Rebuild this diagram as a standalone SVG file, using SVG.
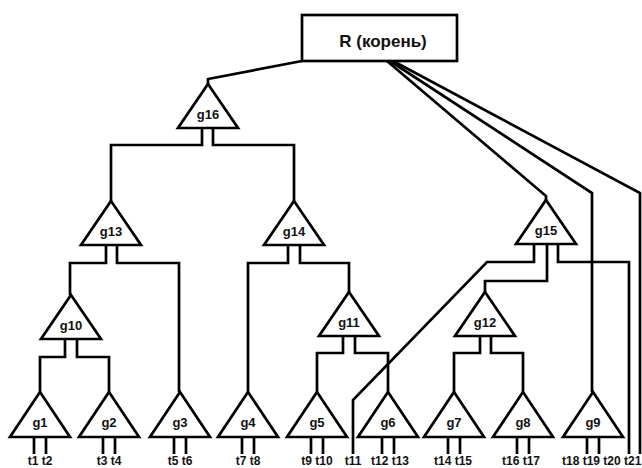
<svg xmlns="http://www.w3.org/2000/svg" width="642" height="468" viewBox="0 0 642 468">
<style>
.tri{fill:#fff;stroke:#000;stroke-width:2.7;stroke-linejoin:miter}
.box{fill:#fff;stroke:#000;stroke-width:2.7}
.w{fill:none;stroke:#000;stroke-width:2.7;stroke-linejoin:miter}
.gl{font-family:"Liberation Sans",Arial,sans-serif;font-weight:bold;font-size:13px;text-anchor:middle;fill:#111}
.tl{font-family:"Liberation Sans",Arial,sans-serif;font-weight:bold;font-size:12px;text-anchor:middle;fill:#111}
.rl{font-family:"Liberation Sans",Arial,sans-serif;font-weight:bold;font-size:17px;text-anchor:middle;fill:#111}
</style>
<rect width="642" height="468" fill="#fff"/>
<g id="connectors" class="w">
<path d="M302,61 L208,79 V84"/>
<path d="M387,61 L546,196 V200"/>
<path d="M390,61 L592,193 V392"/>
<path d="M393,61 L640,193 V454"/>
<path d="M202,128 V145 H111 V201"/>
<path d="M213,128 V145 H294 V201"/>
<path d="M106,245 V263 H70 V295"/>
<path d="M117,245 V263 H179 V392"/>
<path d="M288,245 V263 H248 V392"/>
<path d="M300,245 V263 H349 V292"/>
<path d="M534,244 V262 H487 L353,400 V454"/>
<path d="M547,244 V281 H485 V292"/>
<path d="M558,244 V262 H629 V454"/>
<path d="M65,339 V357 H40 V392"/>
<path d="M77,339 V357 H109 V392"/>
<path d="M343,336 V353 H317 V392"/>
<path d="M355,336 V353 H388 V392"/>
<path d="M480,336 V353 H454 V392"/>
<path d="M491,336 V353 H523 V392"/>
<path d="M34,437 V454 M46,437 V454"/>
<path d="M103,437 V454 M115,437 V454"/>
<path d="M174,437 V454 M186,437 V454"/>
<path d="M242,437 V454 M254,437 V454"/>
<path d="M311,437 V454 M323,437 V454"/>
<path d="M382,437 V454 M394,437 V454"/>
<path d="M448,437 V454 M460,437 V454"/>
<path d="M517,437 V454 M529,437 V454"/>
<path d="M587,437 V454 M599,437 V454"/>
</g>
<g id="R"><rect class="box" x="302" y="15" width="155" height="46"/><text class="rl" x="383" y="47">R (корень)</text></g>
<g id="g16"><path class="tri" d="M208,84 L238,128 L178,128 Z"/><text class="gl" x="208" y="119">g16</text></g>
<g id="g13"><path class="tri" d="M111,201 L141,245 L81,245 Z"/><text class="gl" x="111" y="236">g13</text></g>
<g id="g14"><path class="tri" d="M294,201 L324,245 L264,245 Z"/><text class="gl" x="294" y="236">g14</text></g>
<g id="g15"><path class="tri" d="M546,200 L576,244 L516,244 Z"/><text class="gl" x="546" y="235">g15</text></g>
<g id="g10"><path class="tri" d="M71,295 L101,339 L41,339 Z"/><text class="gl" x="71" y="330">g10</text></g>
<g id="g11"><path class="tri" d="M349,292 L379,336 L319,336 Z"/><text class="gl" x="349" y="327">g11</text></g>
<g id="g12"><path class="tri" d="M485,292 L515,336 L455,336 Z"/><text class="gl" x="485" y="327">g12</text></g>
<g id="g1"><path class="tri" d="M40,392 L70,437 L10,437 Z"/><text class="gl" x="40" y="427">g1</text></g>
<g id="g2"><path class="tri" d="M109,392 L139,437 L79,437 Z"/><text class="gl" x="109" y="427">g2</text></g>
<g id="g3"><path class="tri" d="M180,392 L210,437 L150,437 Z"/><text class="gl" x="180" y="427">g3</text></g>
<g id="g4"><path class="tri" d="M248,392 L278,437 L218,437 Z"/><text class="gl" x="248" y="427">g4</text></g>
<g id="g5"><path class="tri" d="M317,392 L347,437 L287,437 Z"/><text class="gl" x="317" y="427">g5</text></g>
<g id="g6"><path class="tri" d="M388,392 L418,437 L358,437 Z"/><text class="gl" x="388" y="427">g6</text></g>
<g id="g7"><path class="tri" d="M454,392 L484,437 L424,437 Z"/><text class="gl" x="454" y="427">g7</text></g>
<g id="g8"><path class="tri" d="M523,392 L553,437 L493,437 Z"/><text class="gl" x="523" y="427">g8</text></g>
<g id="g9"><path class="tri" d="M593,392 L623,437 L563,437 Z"/><text class="gl" x="593" y="427">g9</text></g>
<g id="terminals">
<text class="tl" x="40" y="465">t1 t2</text>
<text class="tl" x="109" y="465">t3 t4</text>
<text class="tl" x="180" y="465">t5 t6</text>
<text class="tl" x="248" y="465">t7 t8</text>
<text class="tl" x="317" y="465">t9 t10</text>
<text class="tl" x="353" y="465">t11</text>
<text class="tl" x="390" y="465">t12 t13</text>
<text class="tl" x="453" y="465">t14 t15</text>
<text class="tl" x="521" y="465">t16 t17</text>
<text class="tl" x="562" y="465" style="text-anchor:start">t18 t19 t20 t21</text>
</g>
</svg>
